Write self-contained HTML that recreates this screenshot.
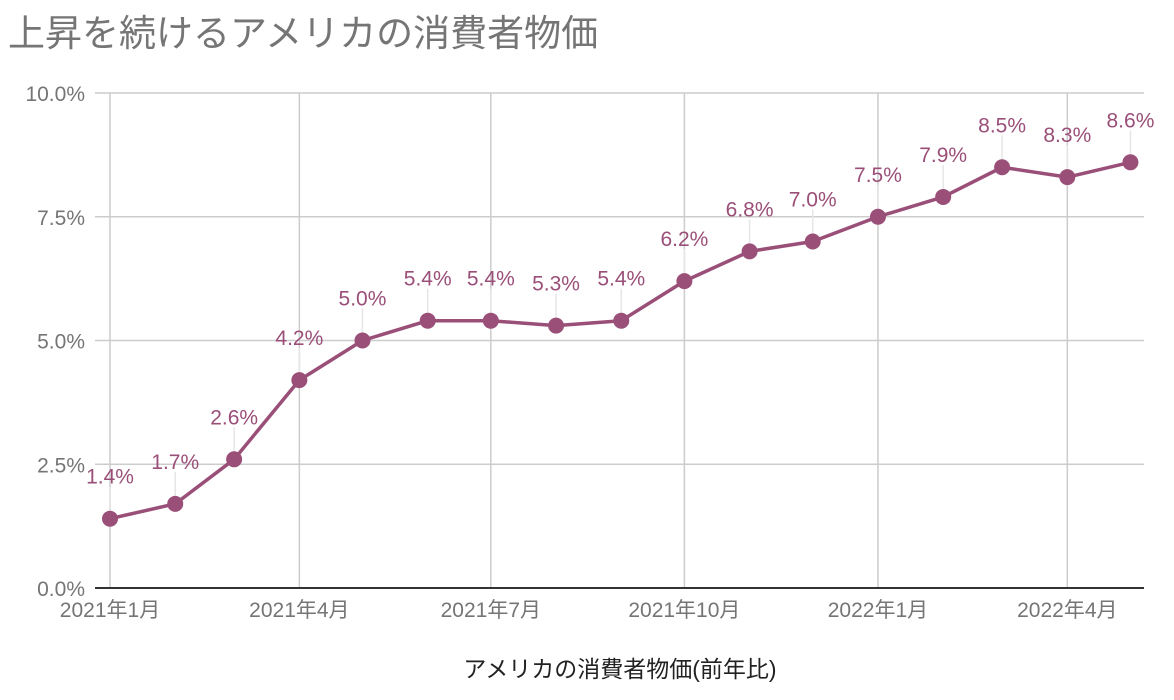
<!DOCTYPE html>
<html><head><meta charset="utf-8"><style>
body{margin:0;background:#fff;}
svg{display:block;font-family:"Liberation Sans","Noto Sans CJK JP",sans-serif;}
</style></head><body>
<svg id="chart" width="1174" height="700">
<text x="8" y="46" font-size="37" fill="#757575">上昇を続けるアメリカの消費者物価</text>
<text x="620" y="677" font-size="23" fill="#222" text-anchor="middle">アメリカの消費者物価(前年比)</text>
<g id="grid"></g><g id="leaders"></g><g id="series"></g><g id="labels"></g>
</svg>
<script>
const months = ["2021-01","2021-02","2021-03","2021-04","2021-05","2021-06","2021-07","2021-08","2021-09","2021-10","2021-11","2021-12","2022-01","2022-02","2022-03","2022-04","2022-05"];
const cpiValues = [1.4,1.7,2.6,4.2,5.0,5.4,5.4,5.3,5.4,6.2,6.8,7.0,7.5,7.9,8.5,8.3,8.6];
const yTicks = [0,2.5,5,7.5,10];
const yTickLabels = ["0.0%","2.5%","5.0%","7.5%","10.0%"];
const xTicks = ["2021-01","2021-04","2021-07","2021-10","2022-01","2022-04"];
const xTickLabels = ["2021年1月","2021年4月","2021年7月","2021年10月","2022年1月","2022年4月"];
const NS="http://www.w3.org/2000/svg";
const t0=Date.UTC(2021,0,1);
function days(m){const [y,mo]=m.split("-").map(Number);return (Date.UTC(y,mo-1,1)-t0)/86400000;}
function xS(m){return 110+days(m)*2.104;}
function yS(v){return 588-v*49.5;}
function mk(tag,attrs,parent){const e=document.createElementNS(NS,tag);for(const k in attrs)e.setAttribute(k,attrs[k]);parent.appendChild(e);return e;}
const grid=document.getElementById("grid");
yTicks.forEach((v,i)=>{
  const l=mk("line",{x1:95,x2:1144,y1:yS(v),y2:yS(v),stroke:v===0?"#333":"#ccc","stroke-width":v===0?2:1.5},grid);
  
  
  const t=mk("text",{x:85,y:yS(v)+8,"text-anchor":"end","font-size":21,fill:"#757575"},grid);
  t.textContent=yTickLabels[i];
  
  
});
xTicks.forEach((m,i)=>{
  const l=mk("line",{x1:xS(m),x2:xS(m),y1:93,y2:587,stroke:"#ccc","stroke-width":1.5},grid);
  
  
  const t=mk("text",{x:xS(m),y:617,"text-anchor":"middle","font-size":21,fill:"#757575"},grid);
  t.textContent=xTickLabels[i];
  
  
});
const ser=document.getElementById("series"),lab=document.getElementById("labels"),lead=document.getElementById("leaders");
const pts=months.map((m,i)=>xS(m)+","+yS(cpiValues[i])).join(" ");
const pl=mk("polyline",{points:pts,fill:"none",stroke:"#9a4f78","stroke-width":3.5,"stroke-linejoin":"round"},ser);


months.forEach((m,i)=>{
  const x=xS(m),y=yS(cpiValues[i]);
  const ld=mk("line",{x1:x,x2:x,y1:y-32,y2:y,stroke:"#e6e6e6","stroke-width":1.5},lead);
  
  
  const c=mk("circle",{cx:x,cy:y,r:8,fill:"#9a4f78"},ser);
  
  
  const t=mk("text",{x:x,y:y-35,"text-anchor":"middle","font-size":21,fill:"#9a4f78"},lab);
  t.textContent=cpiValues[i].toFixed(1)+"%";
  
  
});
</script>
</body></html>
